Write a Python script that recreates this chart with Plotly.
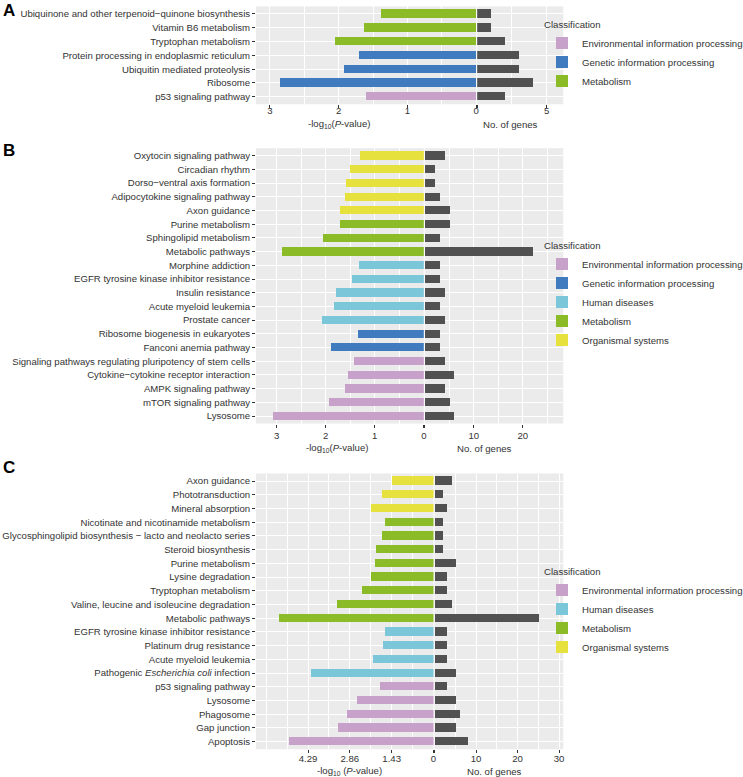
import plotly.graph_objects as go

W, H = 743, 777
FONT = "Liberation Sans, Arial, sans-serif"
FS = 9.6
TXT = "#333333"

COLORS = {
    "Environmental information processing": "#C7A1CA",
    "Genetic information processing": "#3F7BBE",
    "Human diseases": "#7CC6DA",
    "Metabolism": "#8BBB27",
    "Organismal systems": "#E6E13C",
}
GENE_COLOR = "#515151"

# ---------------- Panel A ----------------
a_pathways = [
    "Ubiquinone and other terpenoid\u2212quinone biosynthesis",
    "Vitamin B6 metabolism",
    "Tryptophan metabolism",
    "Protein processing in endoplasmic reticulum",
    "Ubiquitin mediated proteolysis",
    "Ribosome",
    "p53 signaling pathway",
]
a_class = [
    "Metabolism", "Metabolism", "Metabolism",
    "Genetic information processing", "Genetic information processing",
    "Genetic information processing",
    "Environmental information processing",
]
a_logp = [1.39, 1.63, 2.05, 1.70, 1.92, 2.86, 1.61]
a_genes = [1, 1, 2, 3, 3, 4, 2]
a_logp_ticks = [0, 1, 2, 3]
a_gene_ticks = [0, 5]

# ---------------- Panel B ----------------
b_pathways = [
    "Oxytocin signaling pathway",
    "Circadian rhythm",
    "Dorso\u2212ventral axis formation",
    "Adipocytokine signaling pathway",
    "Axon guidance",
    "Purine metabolism",
    "Sphingolipid metabolism",
    "Metabolic pathways",
    "Morphine addiction",
    "EGFR tyrosine kinase inhibitor resistance",
    "Insulin resistance",
    "Acute myeloid leukemia",
    "Prostate cancer",
    "Ribosome biogenesis in eukaryotes",
    "Fanconi anemia pathway",
    "Signaling pathways regulating pluripotency of stem cells",
    "Cytokine\u2212cytokine receptor interaction",
    "AMPK signaling pathway",
    "mTOR signaling pathway",
    "Lysosome",
]
b_class = (
    ["Organismal systems"] * 5
    + ["Metabolism"] * 3
    + ["Human diseases"] * 5
    + ["Genetic information processing"] * 2
    + ["Environmental information processing"] * 5
)
b_logp = [1.31, 1.50, 1.58, 1.60, 1.71, 1.71, 2.06, 2.88, 1.33, 1.46,
          1.79, 1.83, 2.08, 1.35, 1.89, 1.43, 1.54, 1.61, 1.93, 3.07]
b_genes = [4, 2, 2, 3, 5, 5, 3, 22, 3, 3, 4, 3, 4, 3, 3, 4, 6, 4, 5, 6]
b_logp_ticks = [0, 1, 2, 3]
b_gene_ticks = [0, 10, 20]

# ---------------- Panel C ----------------
c_pathways = [
    "Axon guidance",
    "Phototransduction",
    "Mineral absorption",
    "Nicotinate and nicotinamide metabolism",
    "Glycosphingolipid biosynthesis \u2212 lacto and neolacto series",
    "Steroid biosynthesis",
    "Purine metabolism",
    "Lysine degradation",
    "Tryptophan metabolism",
    "Valine, leucine and isoleucine degradation",
    "Metabolic pathways",
    "EGFR tyrosine kinase inhibitor resistance",
    "Platinum drug resistance",
    "Acute myeloid leukemia",
    "Pathogenic <i>Escherichia coli</i> infection",
    "p53 signaling pathway",
    "Lysosome",
    "Phagosome",
    "Gap junction",
    "Apoptosis",
]
c_class = (
    ["Organismal systems"] * 3
    + ["Metabolism"] * 8
    + ["Human diseases"] * 4
    + ["Environmental information processing"] * 5
)
c_logp = [1.41, 1.75, 2.15, 1.66, 1.77, 1.98, 2.01, 2.15, 2.45, 3.30,
          5.29, 1.66, 1.74, 2.06, 4.18, 1.83, 2.63, 2.97, 3.28, 4.95]
c_genes = [4, 2, 3, 2, 2, 2, 5, 3, 3, 4, 25, 3, 3, 3, 5, 3, 5, 6, 5, 8]
c_logp_ticks = [0, 1.43, 2.86, 4.29]
c_logp_ticklabels = ["0", "1.43", "2.86", "4.29"]
c_gene_ticks = [0, 10, 20, 30]


def fx(p):
    return p / W


def fy(p):
    return 1 - p / H


fig = go.Figure()

panels = [
    dict(names=a_pathways, cls=a_class, logp=a_logp, genes=a_genes,
         xl="x", xr="x2", y="y", legend="legend",
         x0=256, xj=476.7, x1=563.3, row0=14, rowN=96.7,
         lmax=3.203, rmax=6.19,
         lt=a_logp_ticks, ltt=[str(v) for v in a_logp_ticks],
         lminor=[0.5, 1.5, 2.5], rt=a_gene_ticks, rminor=[2.5],
         title_y=124, tl_x=338.8, tr_x=510.7, ttl="-log<sub>10</sub>(<i>P</i>-value)",
         leg_y=16, letter="A", letter_y=10.5, standoff=-6),
    dict(names=b_pathways, cls=b_class, logp=b_logp, genes=b_genes,
         xl="x3", xr="x4", y="y2", legend="legend2",
         x0=256, xj=424.3, x1=563.3, row0=155.7, rowN=416,
         lmax=3.42, rmax=28.25,
         lt=b_logp_ticks, ltt=[str(v) for v in b_logp_ticks],
         lminor=[0.5, 1.5, 2.5], rt=b_gene_ticks, rminor=[5, 15, 25],
         title_y=448, tl_x=336.5, tr_x=484, ttl="-log<sub>10</sub>(<i>P</i>-value)",
         leg_y=237, letter="B", letter_y=150, standoff=0),
    dict(names=c_pathways, cls=c_class, logp=c_logp, genes=c_genes,
         xl="x5", xr="x6", y="y3", legend="legend3",
         x0=256, xj=434, x1=563.3, row0=481, rowN=741.7,
         lmax=6.07, rmax=31.03,
         lt=c_logp_ticks, ltt=c_logp_ticklabels,
         lminor=[0.715, 2.145, 3.575, 5.005, 5.72], rt=c_gene_ticks, rminor=[5, 15, 25],
         title_y=771, tl_x=349, tr_x=494, ttl="-log<sub>10</sub> (<i>P</i>-value)",
         leg_y=563, letter="C", letter_y=467, standoff=-3),
]

class_order = list(COLORS.keys())
annotations = []
layout = {}

for i, p in enumerate(panels):
    n = len(p["names"])
    for c in class_order:
        idx = [k for k, cc in enumerate(p["cls"]) if cc == c]
        if not idx:
            continue
        fig.add_trace(go.Bar(
            x=[p["logp"][k] for k in idx],
            y=[p["names"][k] for k in idx],
            orientation="h", width=0.6,
            marker=dict(color=COLORS[c], line=dict(width=0)),
            name=c, xaxis=p["xl"], yaxis=p["y"], legend=p["legend"],
            showlegend=True,
        ))
    fig.add_trace(go.Bar(
        x=p["genes"], y=p["names"], orientation="h", width=0.6,
        marker=dict(color=GENE_COLOR, line=dict(width=0)),
        name="No. of genes", xaxis=p["xr"], yaxis=p["y"], showlegend=False,
    ))

    s = (p["rowN"] - p["row0"]) / (n - 1)
    exp = 0.55
    top = p["row0"] - exp * s
    bot = p["rowN"] + exp * s
    ydom = [fy(bot), fy(top)]

    xl_name = "xaxis" + ("" if p["xl"] == "x" else p["xl"][1:])
    xr_name = "xaxis" + p["xr"][1:]
    y_name = "yaxis" + ("" if p["y"] == "y" else p["y"][1:])

    common_x = dict(
        showgrid=True, gridcolor="white", gridwidth=1.1, zeroline=False,
        ticks="outside", ticklen=3, tickwidth=1, tickcolor=TXT,
        tickfont=dict(family=FONT, size=FS, color=TXT), showline=False,
        anchor=p["y"], fixedrange=True, ticklabelstandoff=p["standoff"],
    )
    layout[xl_name] = dict(
        common_x, domain=[fx(p["x0"]), fx(p["xj"] - 0.5)],
        range=[p["lmax"], 0], tickmode="array", tickvals=p["lt"], ticktext=p["ltt"],
        minor=dict(tickvals=p["lminor"], showgrid=True, gridcolor="white",
                   gridwidth=0.5, ticks=""),
    )
    layout[xr_name] = dict(
        common_x, domain=[fx(p["xj"] + 0.5), fx(p["x1"])],
        range=[0, p["rmax"]], tickmode="array", tickvals=p["rt"],
        ticktext=[""] + [str(v) for v in p["rt"][1:]],
        minor=dict(tickvals=p["rminor"], showgrid=True, gridcolor="white",
                   gridwidth=0.5, ticks=""),
    )
    layout[y_name] = dict(
        domain=ydom, anchor=p["xl"], type="category",
        categoryorder="array", categoryarray=list(reversed(p["names"])),
        range=[-exp, n - 1 + exp],
        showgrid=True, gridcolor="white", gridwidth=1.1, zeroline=False,
        ticks="outside", ticklen=3, tickwidth=1, tickcolor=TXT,
        tickfont=dict(family=FONT, size=FS, color=TXT), showline=False,
        fixedrange=True,
    )
    layout[p["legend"]] = dict(
        x=fx(542), y=fy(p["leg_y"]), xanchor="left", yanchor="top",
        title=dict(text="Classification", font=dict(family=FONT, size=FS, color=TXT)),
        font=dict(family=FONT, size=FS, color=TXT),
        bgcolor="rgba(0,0,0,0)", itemwidth=30, traceorder="normal",
        itemclick=False, itemdoubleclick=False,
    )
    annotations.append(dict(
        text=p["ttl"], x=fx(p["tl_x"]), y=fy(p["title_y"]), xref="paper", yref="paper",
        showarrow=False, xanchor="center", yanchor="middle",
        font=dict(family=FONT, size=FS, color=TXT),
    ))
    annotations.append(dict(
        text="No. of genes", x=fx(p["tr_x"]), y=fy(p["title_y"]), xref="paper", yref="paper",
        showarrow=False, xanchor="center", yanchor="middle",
        font=dict(family=FONT, size=FS, color=TXT),
    ))
    annotations.append(dict(
        text="<b>%s</b>" % p["letter"], x=fx(9), y=fy(p["letter_y"]), xref="paper", yref="paper",
        showarrow=False, xanchor="center", yanchor="middle",
        font=dict(family=FONT, size=17, color="black"),
    ))

fig.update_layout(
    width=W, height=H,
    margin=dict(l=0, r=0, t=0, b=0, pad=0, autoexpand=False),
    paper_bgcolor="white", plot_bgcolor="#EBEBEB",
    barmode="overlay", bargap=0,
    font=dict(family=FONT, size=FS, color=TXT),
    annotations=annotations,
    **layout,
)

fig.write_html(
    "out.html",
    config={"displayModeBar": False},
    post_script="document.body.style.margin='0px';",
)
